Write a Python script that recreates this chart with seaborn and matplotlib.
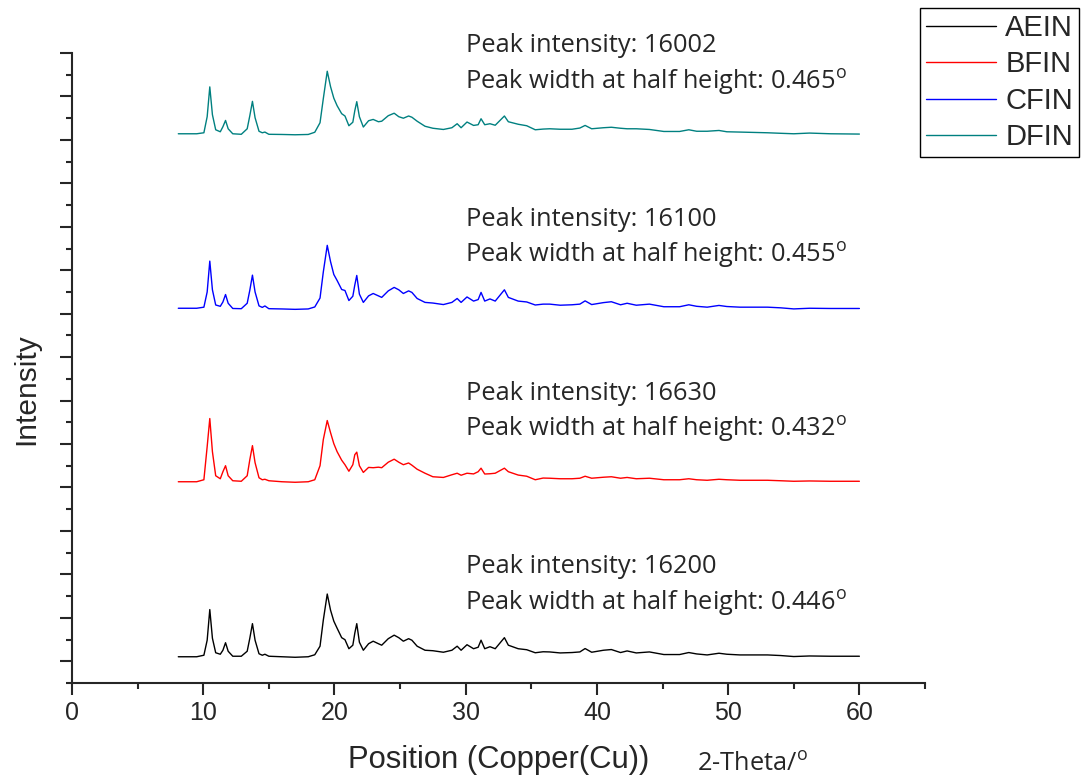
import numpy as np
import pandas as pd
import matplotlib
matplotlib.use("Agg")
import matplotlib.pyplot as plt
import seaborn as sns
from matplotlib.ticker import MultipleLocator, NullFormatter

# 2-theta positions (degrees) shared by all four patterns
two_theta = [
    8.1, 9.5, 10.05, 10.3, 10.5, 10.7, 10.95, 11.3, 11.5, 11.7,
    11.9, 12.25, 12.9, 13.35, 13.55, 13.75, 13.95, 14.25, 14.5, 14.7,
    15.0, 16.0, 17.0, 18.0, 18.5, 18.9, 19.15, 19.45, 19.7, 19.95,
    20.2, 20.55, 20.8, 21.1, 21.4, 21.55, 21.7, 21.9, 22.2, 22.6,
    22.95, 23.35, 23.6, 24.1, 24.55, 24.9, 25.25, 25.65, 25.9, 26.3,
    26.9, 27.5, 28.3, 28.95, 29.35, 29.65, 30.1, 30.6, 30.95, 31.17,
    31.45, 31.85, 32.25, 32.95, 33.25, 34.0, 34.65, 35.3, 35.9, 36.4,
    37.2, 38.1, 38.7, 39.1, 39.6, 40.5, 41.1, 41.8, 42.3, 43.0,
    44.0, 45.1, 46.3, 47.0, 47.6, 48.4, 49.3, 49.9, 50.9, 53.0,
    54.0, 55.0, 56.2, 57.8, 60.0,
]

aein = [
    1040, 1040, 1390, 4850, 11900, 5310, 1960, 1620, 2540, 4270,
    2310, 1160, 1160, 2310, 5310, 8660, 4850, 1730, 1390, 1620,
    1160, 1040, 920, 1040, 1500, 3470, 9470, 15480, 11780, 9240,
    7620, 5430, 4970, 2890, 3700, 6470, 8660, 4390, 2540, 4040,
    4620, 4040, 3700, 5200, 6010, 5430, 4620, 5200, 4850, 3470,
    2540, 2430, 2080, 2540, 3470, 2540, 3810, 2890, 3230, 4850,
    2890, 3350, 2890, 5430, 3700, 2890, 2660, 1960, 2190, 2150,
    1920, 2010, 2150, 2930, 2080, 2540, 2700, 2010, 2380, 1920,
    2150, 1550, 1550, 2010, 1690, 1460, 1850, 1620, 1460, 1460,
    1320, 1090, 1220, 1160, 1160,
]

bfin = [
    1320, 1320, 1780, 9400, 15870, 8250, 2700, 2010, 3630, 5010,
    2700, 1550, 1430, 2700, 6400, 9630, 5710, 2240, 1780, 1890,
    1550, 1320, 1200, 1320, 1780, 5010, 11020, 15410, 12640, 10090,
    8250, 6280, 5240, 3740, 5240, 7550, 8130, 5010, 3470, 4620,
    4550, 4670, 4550, 5820, 6510, 5820, 5240, 5640, 5130, 4200,
    3280, 2470, 2310, 2930, 3280, 2820, 3280, 3120, 3630, 4440,
    3100, 3160, 3280, 4440, 3630, 2860, 2590, 1780, 2170, 2130,
    2010, 2010, 2130, 2590, 2130, 2360, 2470, 2130, 2310, 2010,
    2130, 1780, 1780, 2010, 1780, 1660, 1890, 1780, 1660, 1660,
    1550, 1430, 1500, 1430, 1430,
]

cfin = [
    1250, 1250, 1500, 5000, 12100, 5500, 2000, 1700, 2700, 4410,
    2400, 1200, 1150, 2400, 5400, 8870, 5000, 1800, 1450, 1780,
    1150, 1090, 1000, 1090, 1550, 3600, 9600, 15730, 12000, 9030,
    7650, 5570, 5340, 3030, 4020, 6600, 8800, 4500, 2600, 4100,
    4650, 4100, 3750, 5250, 6050, 5500, 4650, 5250, 4900, 3500,
    2600, 2450, 2100, 2600, 3500, 2600, 3850, 2900, 3250, 4900,
    2900, 3400, 2900, 5500, 3750, 2900, 2700, 2000, 2200, 2200,
    1950, 2050, 2200, 2950, 2100, 2550, 2750, 2050, 2400, 1950,
    2200, 1600, 1600, 2050, 1700, 1500, 1900, 1650, 1500, 1500,
    1350, 1100, 1250, 1200, 1200,
]

dfin = [
    1410, 1410, 1640, 5340, 12200, 5800, 2330, 1870, 3030, 4480,
    2560, 1410, 1290, 2560, 5570, 8870, 5110, 1990, 1640, 1800,
    1290, 1250, 1180, 1250, 1760, 3950, 9490, 15800, 12270, 9610,
    7880, 6030, 5500, 3260, 4070, 6720, 8800, 5340, 2960, 4410,
    4710, 4180, 4300, 5570, 6140, 5340, 4990, 5500, 5220, 4300,
    3140, 2680, 2400, 2800, 3720, 2800, 4110, 3330, 3490, 4870,
    3490, 3720, 3370, 5500, 4180, 3600, 3260, 2330, 2490, 2560,
    2450, 2450, 2730, 3330, 2560, 2800, 2910, 2680, 2560, 2560,
    2400, 1940, 1940, 2330, 1990, 1990, 2170, 1870, 1800, 1640,
    1520, 1410, 1570, 1410, 1340,
]

samples = ["AEIN", "BFIN", "CFIN", "DFIN"]
colors = ["#000000", "#ff0000", "#0000ff", "#008080"]
peak_intensity = ["16200", "16630", "16100", "16002"]
peak_width = ["0.446", "0.432", "0.455", "0.465"]
offset_step = 40000

sns.set_style("ticks")
plt.rcParams["font.family"] = ["Liberation Sans", "DejaVu Sans"]
plt.rcParams["mathtext.fontset"] = "custom"
plt.rcParams["mathtext.rm"] = "Open Sans"

# build a long table with stacked offsets
frames = []
for i, (name, vals) in enumerate(zip(samples, [aein, bfin, cfin, dfin])):
    frames.append(pd.DataFrame({
        "two_theta": two_theta,
        "intensity": np.array(vals) + i * offset_step,
        "sample": name,
    }))
df = pd.concat(frames, ignore_index=True)

fig = plt.figure(figsize=(10.82, 7.83), dpi=100)
ax = fig.add_axes([72 / 1082, 1 - 683 / 783, (925 - 72) / 1082, (683 - 53) / 783])

sns.lineplot(data=df, x="two_theta", y="intensity", hue="sample",
             palette=colors, hue_order=samples, estimator=None, sort=False,
             linewidth=1.0, ax=ax)

ax.set_xlim(0, 65)
ax.set_ylim(-5000, 140000)
ax.xaxis.set_major_locator(MultipleLocator(10))
ax.xaxis.set_minor_locator(MultipleLocator(5))
ax.yaxis.set_major_locator(MultipleLocator(10000))
ax.yaxis.set_minor_locator(MultipleLocator(5000))
ax.yaxis.set_major_formatter(NullFormatter())
ax.set_xticks([0, 10, 20, 30, 40, 50, 60])
ax.tick_params(axis="both", which="major", length=8.6, width=1.5, direction="out",
               labelsize=18, pad=4.5)
ax.tick_params(axis="both", which="minor", length=4.3, width=1.5, direction="out")
for s in ["top", "right"]:
    ax.spines[s].set_visible(False)
for s in ["left", "bottom"]:
    ax.spines[s].set_linewidth(1.5)

ax.set_xlabel("Position (Copper(Cu))", fontsize=22.3, labelpad=14)
ax.set_ylabel("Intensity", fontsize=21.5)
ax.yaxis.set_label_coords(-0.0375, 0.467)
fig.text(697 / 1082, 1 - 764 / 783, r"2-Theta/$^{\mathrm{o}}$", family="Open Sans",
         fontsize=18.3, ha="left", va="center")

# peak annotations above each pattern
for i in range(4):
    base = i * offset_step
    ax.text(30.05, base + 21700, "Peak intensity: " + peak_intensity[i],
            family="Open Sans", fontsize=18.3, ha="left", va="center")
    ax.text(29.95, base + 13400,
            "Peak width at half height: " + peak_width[i] + r"$^{\mathrm{o}}$",
            family="Open Sans", fontsize=18.3, ha="left", va="center")

handles, labels = ax.get_legend_handles_labels()
ax.legend(handles, labels, loc="upper right", bbox_to_anchor=(1079 / 1082, 1 - 8 / 783),
          bbox_transform=fig.transFigure, fontsize=21, handlelength=2.4,
          frameon=True, fancybox=False, edgecolor="black", framealpha=1,
          borderpad=0.2, labelspacing=0.29, handletextpad=0.33, borderaxespad=0)
ax.get_legend().get_frame().set_linewidth(1.0)

fig.savefig("out.png", dpi=100)
